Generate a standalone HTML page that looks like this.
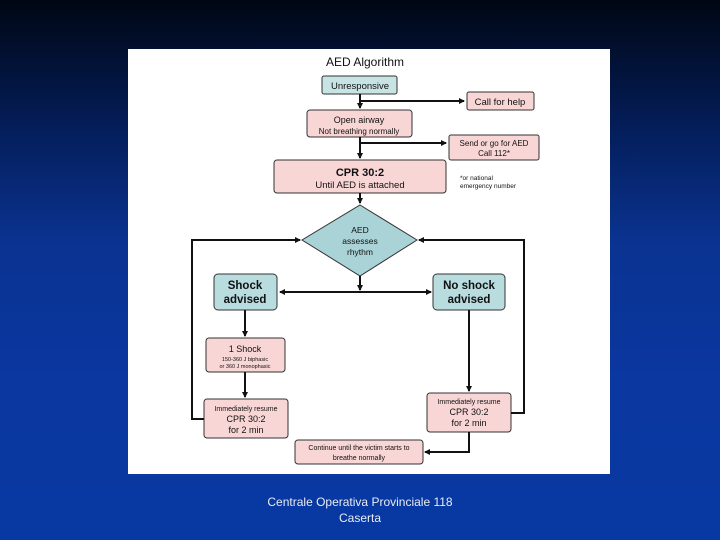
<!DOCTYPE html>
<html><head><style>
html,body{margin:0;padding:0;}
body{width:720px;height:540px;overflow:hidden;position:relative;background:linear-gradient(180deg,#000613 0%,#041c55 22%,#0a3391 45%,#0a37a0 70%,#0838a2 100%);font-family:"Liberation Sans",sans-serif;}
.panel{position:absolute;left:128px;top:49px;width:482px;height:425px;background:#fff;}
.foot{position:absolute;left:0;width:720px;text-align:center;color:#e8ecf5;font-size:12px;}
</style></head><body>
<div class="panel"></div>
<svg width="720" height="540" style="position:absolute;left:0;top:0" font-family="Liberation Sans, sans-serif">
<defs><marker id="a" markerWidth="6" markerHeight="6" refX="5" refY="3" orient="auto-start-reverse" markerUnits="userSpaceOnUse"><path d="M0,0 L6,3 L0,6z" fill="#111"/></marker></defs>
<g stroke="#333" stroke-width="1">
<rect x="322" y="76" width="75" height="18" rx="2" fill="#c7e3e4"/>
<rect x="467" y="92" width="67" height="18" rx="2" fill="#f9d6d6"/>
<rect x="307" y="110" width="105" height="27" rx="3" fill="#f9d6d6"/>
<rect x="449" y="135" width="90" height="25" rx="2" fill="#f9d6d6"/>
<rect x="274" y="160" width="172" height="33" rx="3" fill="#f9d6d6"/>
<path d="M360,205 L417,240 L360,276 L302,240z" fill="#a9d3d6"/>
<rect x="214" y="274" width="63" height="36" rx="4" fill="#b9dcdf"/>
<rect x="433" y="274" width="72" height="36" rx="4" fill="#b9dcdf"/>
<rect x="206" y="338" width="79" height="34" rx="3" fill="#f9d6d6"/>
<rect x="204" y="399" width="84" height="39" rx="3" fill="#f9d6d6"/>
<rect x="427" y="393" width="84" height="39" rx="3" fill="#f9d6d6"/>
<rect x="295" y="440" width="128" height="24" rx="3" fill="#f9d6d6"/>
</g>
<g stroke="#111" stroke-width="2" fill="none">
<path d="M360,94 V108" marker-end="url(#a)"/>
<path d="M360,101 H464" marker-end="url(#a)"/>
<path d="M360,137 V158" marker-end="url(#a)"/>
<path d="M360,143 H446" marker-end="url(#a)"/>
<path d="M360,193 V203" marker-end="url(#a)"/>
<path d="M360,276 V290" marker-end="url(#a)"/>
<path d="M280,292 H431" marker-end="url(#a)" marker-start="url(#a)"/>
<path d="M245,310 V336" marker-end="url(#a)"/>
<path d="M245,372 V397" marker-end="url(#a)"/>
<path d="M469,310 V391" marker-end="url(#a)"/>
<path d="M204,419 H192 V240 H300" marker-end="url(#a)"/>
<path d="M511,413 H524 V240 H419" marker-end="url(#a)"/>
<path d="M469,432 V452 H425" marker-end="url(#a)"/>
</g>
<g fill="#111" text-anchor="middle">
<text x="365" y="66" font-size="12">AED Algorithm</text>
<text x="360" y="89" font-size="9.5">Unresponsive</text>
<text x="500" y="105" font-size="9.5">Call for help</text>
<text x="359" y="123" font-size="9">Open airway</text>
<text x="359" y="134" font-size="8">Not breathing normally</text>
<text x="494" y="146" font-size="8">Send or go for AED</text>
<text x="494" y="156" font-size="8">Call 112*</text>
<text x="360" y="176" font-size="11" font-weight="bold">CPR 30:2</text>
<text x="360" y="188" font-size="9.5">Until AED is attached</text>
<text x="360" y="233" font-size="8.5">AED</text>
<text x="360" y="244" font-size="8.5">assesses</text>
<text x="360" y="255" font-size="8.5">rhythm</text>
<text x="245" y="289" font-size="11.5" font-weight="bold">Shock</text>
<text x="245" y="303" font-size="11.5" font-weight="bold">advised</text>
<text x="469" y="289" font-size="11.5" font-weight="bold">No shock</text>
<text x="469" y="303" font-size="11.5" font-weight="bold">advised</text>
<text x="245" y="352" font-size="9">1 Shock</text>
<text x="245" y="361" font-size="5.5">150-360 J biphasic</text>
<text x="245" y="368" font-size="5.5">or 360 J monophasic</text>
<text x="246" y="411" font-size="7">Immediately resume</text>
<text x="246" y="422" font-size="9">CPR 30:2</text>
<text x="246" y="433" font-size="9">for 2 min</text>
<text x="469" y="404" font-size="7">Immediately resume</text>
<text x="469" y="415" font-size="9">CPR 30:2</text>
<text x="469" y="426" font-size="9">for 2 min</text>
<text x="359" y="450" font-size="7">Continue until the victim starts to</text>
<text x="359" y="460" font-size="7">breathe normally</text>
</g>
<g fill="#111" font-size="6.5">
<text x="460" y="180">*or national</text>
<text x="460" y="188">emergency number</text>
</g>
</svg>
<div class="foot" style="top:495px">Centrale Operativa Provinciale 118</div>
<div class="foot" style="top:511px">Caserta</div>
</body></html>
